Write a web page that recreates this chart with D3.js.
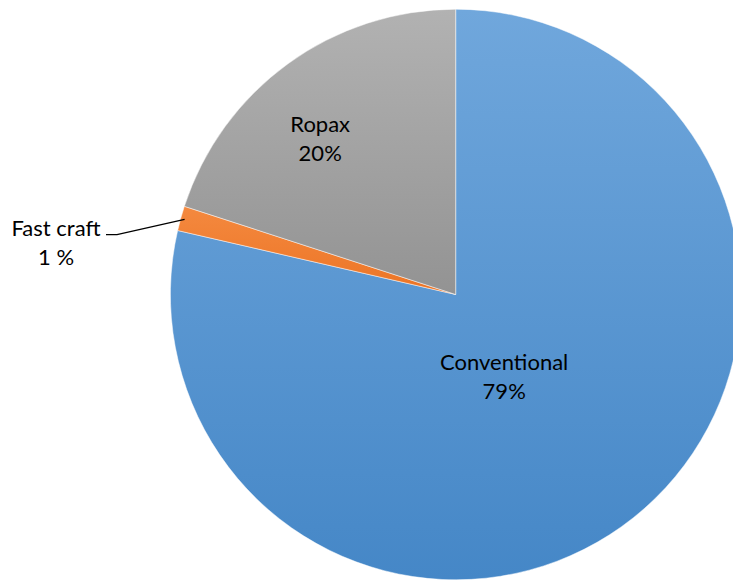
<!DOCTYPE html>
<html>
<head>
<meta charset="utf-8">
<script src="https://cdn.jsdelivr.net/npm/d3@7"></script>
<style>
  html, body { margin: 0; padding: 0; background: #fff; }
  svg { display: block; }
  text { font-family: Lato, "Open Sans", sans-serif; fill: #000; }
</style>
</head>
<body>
<svg id="chart" width="733" height="581"></svg>
<script>
const categories = ["Conventional", "Fast craft", "Ropax"];
const values = [78.6, 1.4, 20.0];
const labelText = ["79%", "1 %", "20%"];
const colorsTop = ["#70a7dc", "#f4893f", "#b2b2b2"];
const colorsBottom = ["#4587c7", "#ec7425", "#939393"];

const W = 733, H = 581;
const cx = 455.7, cy = 294.5, R = 285.3;
// label anchor (centre x, first baseline) offsets relative to pie centre
const labelOffsets = [[48.5, 75.5], null, [-135.5, -162.5]];

const svg = d3.select("#chart");
const defs = svg.append("defs");
categories.forEach((c, i) => {
  const g = defs.append("linearGradient")
    .attr("id", "grad" + i)
    .attr("x1", 0).attr("y1", 0).attr("x2", 0).attr("y2", 1);
  g.append("stop").attr("offset", "0%").attr("stop-color", colorsTop[i]);
  g.append("stop").attr("offset", "100%").attr("stop-color", colorsBottom[i]);
});

const pie = d3.pie().sort(null).value(d => d.v);
const data = categories.map((c, i) => ({ name: c, v: values[i], label: labelText[i], i }));
const arcs = pie(data);
const arc = d3.arc().innerRadius(0).outerRadius(R);

const g = svg.append("g").attr("transform", `translate(${cx},${cy})`);
g.selectAll("path").data(arcs).join("path")
  .attr("d", arc)
  .attr("fill", d => `url(#grad${d.data.i})`)
  .attr("stroke", "#ffffff")
  .attr("stroke-opacity", 0.6)
  .attr("stroke-width", 0.8);

const fs = 22;
const lh = 29;

function drawLabel(x, y, d) {
  const t = svg.append("text").attr("text-anchor", "middle").attr("font-size", fs);
  t.append("tspan").attr("x", x).attr("y", y).text(d.data.name);
  t.append("tspan").attr("x", x).attr("y", y + lh).text(d.data.label);
}

[0, 2].forEach(i => {
  const d = arcs[i];
  drawLabel(cx + labelOffsets[i][0], cy + labelOffsets[i][1], d);
});

// Fast craft: outside with leader line
{
  const d = arcs[1];
  const mid = (d.startAngle + d.endAngle) / 2;
  const px = cx + Math.sin(mid) * (R - 4);
  const py = cy - Math.cos(mid) * (R - 4);
  const lx = 56, ly = 235.7;
  svg.append("polyline")
    .attr("points", `${px},${py} ${lx + 61},${ly - 1} ${lx + 50},${ly - 1}`)
    .attr("fill", "none").attr("stroke", "#000").attr("stroke-width", 1.3);
  drawLabel(lx, ly, d);
}
</script>
</body>
</html>
